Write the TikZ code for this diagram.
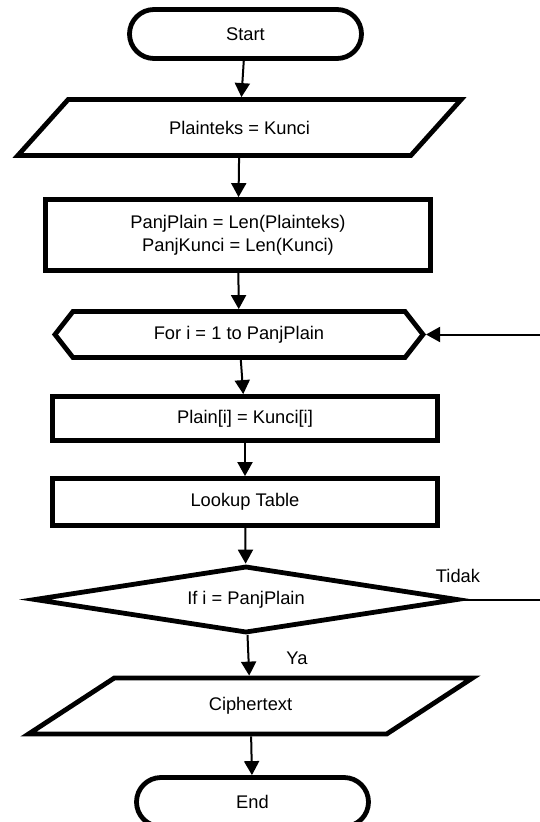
\documentclass[tikz,border=0pt]{standalone}
\usepackage{fontspec}
\setmainfont{Liberation Sans}
\usetikzlibrary{arrows.meta,shapes.geometric,shapes.misc,shapes.symbols}

\begin{document}
\begin{tikzpicture}[x=1pt,y=-1pt,
  every node/.style={font=\fontsize{18.3}{23}\selectfont},
  fig/.style={draw,line width=4.8pt,inner sep=0pt},
  term/.style={fig,rounded rectangle,minimum width=232pt,minimum height=49pt},
  io/.style={fig,trapezium,trapezium left angle=33,trapezium right angle=147,
    trapezium stretches=true,minimum width=444pt,minimum height=56pt},
  proc/.style={fig,rectangle,minimum width=385pt,align=center},
  loopbox/.style={fig,signal,signal to=west and east,signal pointer angle=104,
    minimum width=368pt,minimum height=46pt},
  decide/.style={fig,diamond,aspect=6,minimum width=424pt,minimum height=67pt},
  conn/.style={line width=2pt,-{Triangle[length=14pt,width=15pt]}}]
\useasboundingbox (0,0) rectangle (539,822);
\node[term] (start) at (245.5,34) {Start};
\node[io] (input) at (239.5,127.5) {Plainteks = Kunci};
\node[proc,minimum height=71pt] (len) at (238,235) {PanjPlain = Len(Plainteks)\\PanjKunci = Len(Kunci)};
\node[loopbox] (loop) at (239,334.5) {For i = 1 to PanjPlain};
\node[proc,minimum height=44pt] (pair) at (245,418.5) {Plain[i] = Kunci[i]};
\node[proc,minimum height=47pt] (lookup) at (245,502) {Lookup Table};
\node[decide] (cond) at (246,599.5) {If i = PanjPlain};
\node[io] (output) at (250.5,706) {Ciphertext};
\node[term] (end) at (252.5,802) {End};
\node (no) at (458,576) {Tidak};
\node (yes) at (297,658) {Ya};
\coordinate (back1) at (560,599.5);
\coordinate (back2) at (560,334.5);
% alur utama
\draw[conn] (start) -- (input);
\draw[conn] (input) -- (len);
\draw[conn] (len) -- (loop);
\draw[conn] (loop) -- (pair);
\draw[conn] (pair) -- (lookup);
\draw[conn] (lookup) -- (cond);
\draw[conn] (cond) -- (output);
\draw[conn] (output) -- (end);
% kembali ke perulangan
\draw[conn] (cond.east) -- (back1) -- (back2) -- (loop.east);
\end{tikzpicture}
\end{document}
